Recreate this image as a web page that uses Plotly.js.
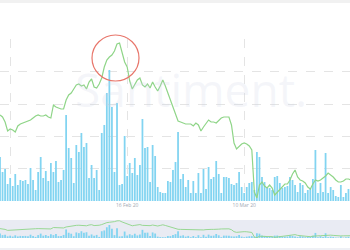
<!DOCTYPE html>
<html><head><meta charset="utf-8">
<script src="https://cdn.plot.ly/plotly-3.0.1.min.js"></script>
<style>html,body{margin:0;padding:0;background:#fff}#chart{width:350px;height:250px}</style>
</head><body><div id="chart"></div>
<script>
const startDate = '2020-01-22T00:00:00Z';
const stepHours = 12;
const xRange = ['2020-01-22 00:00', '2020-03-30 19:12'];
const tickDates = ['2020-01-24', '2020-02-16', '2020-03-10'];
const tickLabels = ['24 Jan 20', '16 Feb 20', '10 Mar 20'];

const volume = [
  44,29,32,17,23,15,27,16,21,20,21,17,33,21,11,29,44,23,30,20,38,29,40,
  19,21,31,86,53,43,18,56,49,68,54,58,23,36,23,31,11,68,76,108,131,94,29,98,
  16,17,65,25,38,28,43,26,36,82,53,54,19,56,45,14,9,8,8,20,19,31,39,69,
  22,27,14,21,8,20,8,28,8,32,12,34,22,24,40,27,8,24,24,23,17,16,18,
  29,14,8,14,18,19,11,49,44,24,19,14,13,11,24,25,18,13,14,15,
  24,21,16,9,18,16,8,11,13,22,51,8,18,9,48,8,14,11,5,4,16,4,8,12,11
];
const price = [
  86,84,79,70,72,71,69,75,77,78,79,80,81,83,85,86,85,85,86,84,
  83,96,94,93,92,92,101,106,108,112,116,117,115,116,112,119,122,114,113,117,
  123,134,141,144,146,150,157,158,147,139,134,120,112,116,121,123,116,114,117,113,
  119,114,110,115,121,115,108,100,93,87,80,79,78,77,77,77,75,78,76,70,
  74,77,81,79,79,78,81,83,84,84,84,76,58,52,55,57,58,57,55,51,
  9,3,16,19,15,13,16,13,6,9,12,14,17,17,21,27,31,24,21,20,
  18,14,12,17,21,20,21,23,25,28,26,24,21,19,19,20,22,22,21
];

const t0 = Date.parse(startDate);
const dates = volume.map((_, i) =>
  new Date(t0 + i * stepHours * 3600e3).toISOString().slice(0, 16).replace('T', ' '));

const barColor = '#82d4f1';
const lineColor = '#8fd588';

const traces = [
  {type:'bar', x:dates, y:volume, xaxis:'x', yaxis:'y', marker:{color:barColor}, hoverinfo:'skip'},
  {type:'scatter', mode:'lines', x:dates, y:price, xaxis:'x', yaxis:'y2',
   line:{color:lineColor, width:1.2}, hoverinfo:'skip'},
  {type:'bar', x:dates, y:volume, xaxis:'x2', yaxis:'y3', marker:{color:barColor}, hoverinfo:'skip'},
  {type:'scatter', mode:'lines', x:dates, y:price, xaxis:'x2', yaxis:'y4',
   line:{color:lineColor, width:0.9}, hoverinfo:'skip'}
];

const layout = {
  width:350, height:250,
  margin:{l:0, r:0, t:0, b:0},
  paper_bgcolor:'#fff', plot_bgcolor:'rgba(0,0,0,0)',
  showlegend:false, bargap:0.3,
  font:{family:'Open Sans, sans-serif'},
  xaxis:{type:'date', range:xRange, domain:[0,1], anchor:'y',
    tickvals:tickDates, ticktext:tickLabels, tickfont:{size:5, color:'#a3a9b3'},
    ticks:'', ticklen:1, showgrid:true, gridcolor:'#e4e4e4', griddash:'dash', gridwidth:1,
    zeroline:false, showline:false},
  yaxis:{domain:[0.196,0.844], range:[0,162], tickvals:[32.5,65,97,129.5,162],
    showticklabels:false, ticks:'', showgrid:true, gridcolor:'#e4e4e4', griddash:'dash',
    zeroline:false, showline:false},
  yaxis2:{overlaying:'y', range:[0,162], visible:false},
  xaxis2:{type:'date', range:xRange, domain:[0,1], anchor:'y3', visible:false},
  yaxis3:{domain:[0.048,0.12], range:[0,181], visible:false},
  yaxis4:{overlaying:'y3', range:[0,165], visible:false},
  shapes:[
    {type:'rect', xref:'paper', yref:'paper', x0:0, x1:1, y0:0.988, y1:1,
     fillcolor:'#f1f1f1', line:{width:0}, layer:'below'},
    {type:'rect', xref:'paper', yref:'paper', x0:0, x1:1, y0:0.048, y1:0.12,
     fillcolor:'#e9ebf3', line:{width:0}, layer:'below'},
    {type:'rect', xref:'paper', yref:'paper', x0:0, x1:1, y0:0, y1:0.008,
     fillcolor:'#eef0f5', line:{width:0}, layer:'below'},
    {type:'circle', xref:'paper', yref:'paper', x0:92/350, x1:139/350, y0:169/250, y1:215/250,
     line:{color:'#e8766b', width:1.2}}
  ],
  annotations:[
    {text:'Santiment.', xref:'paper', yref:'paper', x:191/350, y:161/250,
     xanchor:'center', yanchor:'middle', showarrow:false,
     font:{family:'Open Sans', size:46, color:'rgba(205,212,232,0.22)'}}
  ]
};

Plotly.newPlot('chart', traces, layout, {displayModeBar:false, staticPlot:true});
</script>
</body></html>
